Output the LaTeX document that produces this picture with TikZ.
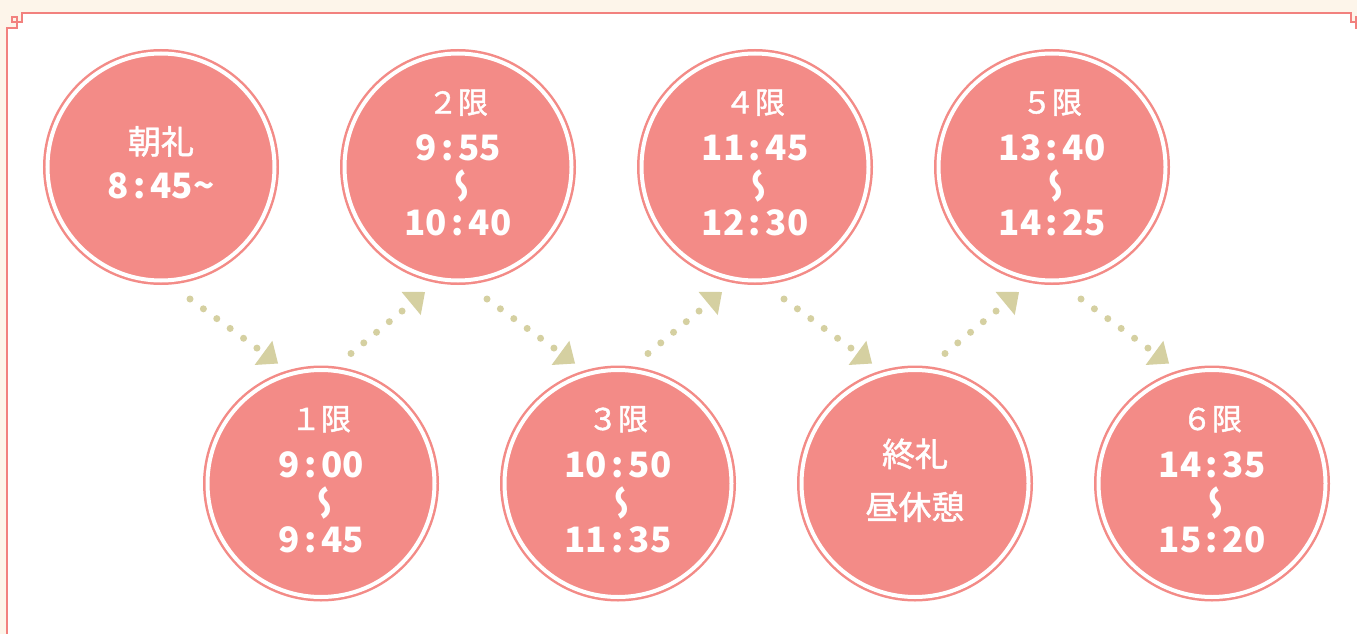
\documentclass[tikz,border=0pt]{standalone}
\usepackage{graphicx}
\usepackage{fontspec}
\newfontfamily\jp{Noto Sans CJK JP}
\newfontfamily\jpm{Noto Sans CJK JP}[FakeBold=1.4]
\usetikzlibrary{arrows.meta}

\definecolor{maru}{HTML}{F38B87}
\definecolor{waku}{HTML}{F2817E}
\definecolor{yaji}{HTML}{D5D0A1}
\definecolor{kinari}{HTML}{FDF5EA}

\newcommand\cln{\kern.13em:\kern.13em}
\newcommand\kara{\reflectbox{\rotatebox{90}{\jp\fontsize{35}{40}\selectfont\bfseries 〜}}}
\newcommand\tim{\jp\fontsize{35}{40}\selectfont\bfseries}
\newcommand\gen{\jpm\fontsize{30}{40}\selectfont}
\newcommand\mei{\jpm\fontsize{33}{40}\selectfont}
\newcommand\lowstrut{\rule[-9pt]{0pt}{9pt}}

\begin{document}
\begin{tikzpicture}[x=1pt,y=-1pt,
  maru/.style={circle,minimum size=227pt,inner sep=0pt,fill=maru,draw=maru,
    line width=2.5pt,double=white,double distance=4pt,text=white,align=center,
    font=\jp\fontsize{34}{40}\selectfont},
  yaji line/.style={draw=yaji,line width=7pt,line cap=round,
    dash pattern=on 0pt off 16.6pt,
    -{Triangle[width=30pt,length=18pt,line width=0pt]}}]

\useasboundingbox (0,0) rectangle (1357,634);
\clip (0,0) rectangle (1357,634);

% frame
\fill[kinari] (0,0) rectangle (1357,634);
\fill[white] (7,640) -- (7,28) -- (17,28) -- (17,22) -- (22,22) -- (22,13) -- (1351,13)
  -- (1351,22) -- (1356,22) -- (1356,28) -- (1366,28) -- (1366,640) -- cycle;
\draw[waku,line width=2pt] (7,640) -- (7,28) -- (17,28) -- (17,17) -- (12,17) -- (12,22)
  -- (22,22) -- (22,13) -- (1351,13) -- (1351,22) -- (1361,22) -- (1361,17) -- (1356,17)
  -- (1356,28) -- (1366,28) -- (1366,640);

% circles
\node[maru] (k0) at (161,167) {\mei 朝礼\\[5pt] \tim 8\cln 45\textasciitilde\lowstrut};
\node[maru] (k1) at (321,483.5) {\gen １限\\[7pt] \tim 9\cln 00\\[3pt] \kara\\[-8pt] \tim 9\cln 45\lowstrut};
\node[maru] (k2) at (458,167) {\gen ２限\\[7pt] \tim 9\cln 55\\[3pt] \kara\\[-8pt] \tim 10\cln 40\lowstrut};
\node[maru] (k3) at (618,483.5) {\gen ３限\\[7pt] \tim 10\cln 50\\[3pt] \kara\\[-8pt] \tim 11\cln 35\lowstrut};
\node[maru] (k4) at (755,167) {\gen ４限\\[7pt] \tim 11\cln 45\\[3pt] \kara\\[-8pt] \tim 12\cln 30\lowstrut};
\node[maru] (k5) at (915,483.5) {\mei 終礼\\[13pt] \mei 昼休憩\lowstrut};
\node[maru] (k6) at (1052,167) {\gen ５限\\[7pt] \tim 13\cln 40\\[3pt] \kara\\[-8pt] \tim 14\cln 25\lowstrut};
\node[maru] (k7) at (1212,483.5) {\gen ６限\\[7pt] \tim 14\cln 35\\[3pt] \kara\\[-8pt] \tim 15\cln 20\lowstrut};

% arrows
\foreach \i/\j in {0/1,2/3,4/5,6/7}
{
\coordinate (s\i) at ([shift={(29,132)}]k\i.center);
\coordinate (e\i) at ([shift={(-43,-120)}]k\j.center);
}
\foreach \i/\j in {1/2,3/4,5/6}
{
\coordinate (s\i) at ([shift={(30,-130)}]k\i.center);
\coordinate (e\i) at ([shift={(-33,125)}]k\j.center);
}
\foreach \i in {0,...,6}
  \draw[yaji line] (s\i) -- (e\i);
\end{tikzpicture}
\end{document}
